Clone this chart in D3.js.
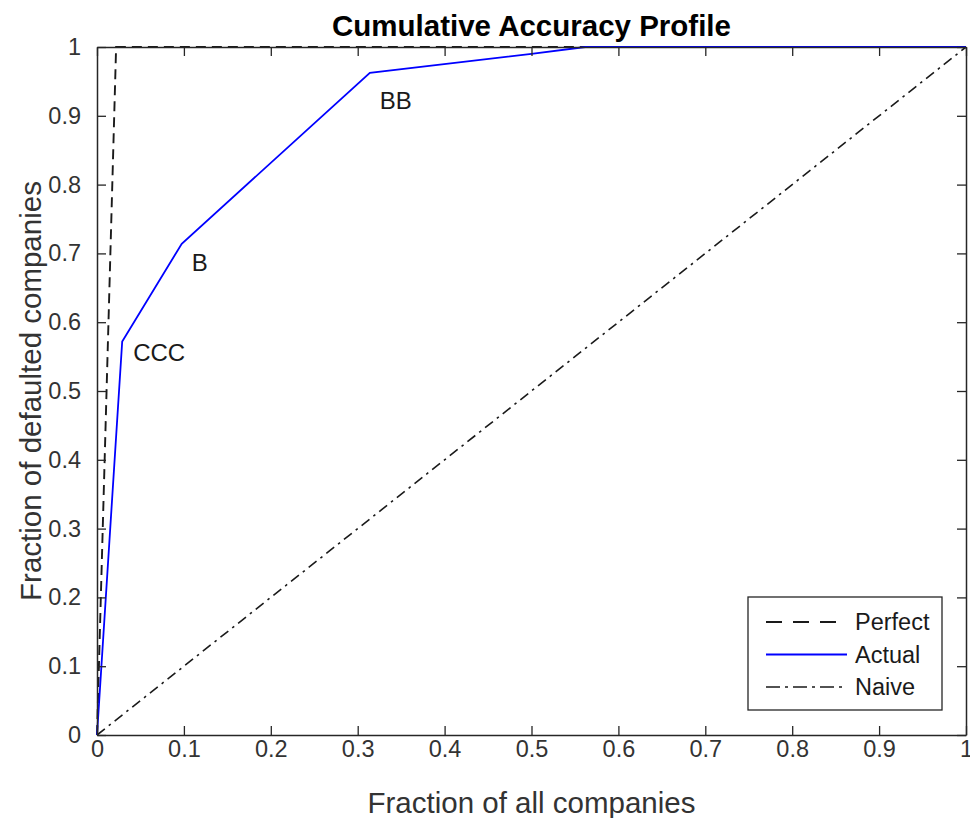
<!DOCTYPE html>
<html>
<head>
<meta charset="utf-8">
<script src="https://cdn.jsdelivr.net/npm/d3@7"></script>
<style>
  html, body { margin: 0; padding: 0; background: #fff; }
  svg { display: block; }
  text { font-family: "Liberation Sans", Arial, Helvetica, sans-serif; fill: #262626; }
</style>
</head>
<body>
<svg id="chart" width="970" height="818"></svg>
<script>
// Cumulative accuracy profile of a rating scale
const ratings      = ["CCC", "B", "BB", "BBB", "A", "AAA"];
const actualX      = [0, 0.029, 0.0975, 0.314, 0.50, 0.562, 1];
const actualY      = [0, 0.572, 0.714, 0.9625, 0.990, 1, 1];
const perfectX     = [0, 0.022, 1];
const perfectY     = [0, 1, 1];
const naiveX       = [0, 1];
const naiveY       = [0, 1];
const labelled     = ["CCC", "B", "BB"];
const tickValues   = [0, 0.1, 0.2, 0.3, 0.4, 0.5, 0.6, 0.7, 0.8, 0.9, 1];
const tickLabels   = ["0", "0.1", "0.2", "0.3", "0.4", "0.5", "0.6", "0.7", "0.8", "0.9", "1"];
const legendNames  = ["Perfect", "Actual", "Naive"];

const svg = d3.select("#chart");
const m = { left: 97, right: 4, top: 47, bottom: 83 };
const W = 970, H = 818;
const x = d3.scaleLinear().domain([0, 1]).range([m.left, W - m.right]);
const y = d3.scaleLinear().domain([0, 1]).range([H - m.bottom, m.top]);

const axisColor = "#262626";
const styles = {
  Perfect: { color: "#1a1a1a", dash: "10,6", width: 1.9 },
  Actual:  { color: "#0000ff", dash: null, width: 1.8 },
  Naive:   { color: "#1a1a1a", dash: "10,5,2.5,5", width: 1.6 }
};

const toPts = (xs, ys) => xs.map((v, i) => [v, ys[i]]);
const line = d3.line().x(d => x(d[0])).y(d => y(d[1]));

const plot = svg.append("g");
const series = [
  { name: "Perfect", pts: toPts(perfectX, perfectY) },
  { name: "Naive",   pts: toPts(naiveX, naiveY) },
  { name: "Actual",  pts: toPts(actualX, actualY) }
];
series.forEach(s => {
  const st = styles[s.name];
  plot.append("path")
    .attr("d", line(s.pts))
    .attr("fill", "none")
    .attr("stroke", st.color)
    .attr("stroke-width", st.width)
    .attr("stroke-dasharray", st.dash);
});

// rating labels beside the curve's kinks
const labelOffsets = { CCC: [11, 11], B: [10, 19], BB: [10, 28] };
labelled.forEach(r => {
  const i = ratings.indexOf(r) + 1;
  const off = labelOffsets[r];
  svg.append("text")
    .attr("x", x(actualX[i]) + off[0])
    .attr("y", y(actualY[i]) + off[1])
    .attr("dominant-baseline", "central")
    .attr("font-size", 24)
    .style("fill", "#1a1a1a")
    .text(r);
});

// axes with inward ticks on all four sides
const tickLen = 9;
const fmt = d => tickLabels[tickValues.indexOf(d)];
const axisB = d3.axisBottom(x).tickValues(tickValues).tickFormat(fmt).tickSizeInner(-tickLen).tickSizeOuter(0).tickPadding(5);
const axisT = d3.axisTop(x).tickValues(tickValues).tickFormat("").tickSizeInner(-tickLen).tickSizeOuter(0);
const axisL = d3.axisLeft(y).tickValues(tickValues).tickFormat(fmt).tickSizeInner(-tickLen).tickSizeOuter(0).tickPadding(16);
const axisR = d3.axisRight(y).tickValues(tickValues).tickFormat("").tickSizeInner(-tickLen).tickSizeOuter(0);

function styleAxis(g) {
  g.select(".domain").attr("stroke", axisColor).attr("stroke-width", 1.5);
  g.selectAll(".tick line").attr("stroke", axisColor).attr("stroke-width", 1.3);
  g.selectAll(".tick text").attr("font-size", 23.5).style("fill", "#333")
    .attr("font-family", "Liberation Sans, Arial, sans-serif");
}
svg.append("g").attr("transform", `translate(0,${H - m.bottom})`).call(axisB).call(styleAxis);
svg.append("g").attr("transform", `translate(0,${m.top})`).call(axisT).call(styleAxis);
svg.append("g").attr("transform", `translate(${m.left},0)`).call(axisL).call(styleAxis);
svg.append("g").attr("transform", `translate(${W - m.right},0)`).call(axisR).call(styleAxis);

// title and axis labels
svg.append("text")
  .attr("x", (x(0) + x(1)) / 2).attr("y", 25)
  .attr("text-anchor", "middle").attr("dominant-baseline", "central")
  .attr("font-size", 29.5).attr("font-weight", "bold").style("fill", "#000")
  .text("Cumulative Accuracy Profile");
svg.append("text")
  .attr("x", (x(0) + x(1)) / 2).attr("y", 802)
  .attr("text-anchor", "middle").attr("dominant-baseline", "central")
  .attr("font-size", 29.5).style("fill", "#333")
  .text("Fraction of all companies");
svg.append("text")
  .attr("transform", `translate(30,${(y(0) + y(1)) / 2}) rotate(-90)`)
  .attr("text-anchor", "middle").attr("dominant-baseline", "central")
  .attr("font-size", 29.5).style("fill", "#333")
  .text("Fraction of defaulted companies");

// legend
const lg = svg.append("g").attr("transform", "translate(748,597)");
lg.append("rect").attr("width", 194).attr("height", 113)
  .attr("fill", "#fff").attr("stroke", axisColor).attr("stroke-width", 1.3);
legendNames.forEach((name, i) => {
  const st = styles[name];
  const cy = 25 + i * 32.5;
  lg.append("line").attr("x1", 18).attr("x2", 99).attr("y1", cy).attr("y2", cy)
    .attr("stroke", st.color).attr("stroke-width", st.width)
    .attr("stroke-dasharray", name === "Perfect" ? "16,11" : name === "Naive" ? "14,5,3,5" : null);
  lg.append("text").attr("x", 107).attr("y", cy).attr("dominant-baseline", "central")
    .attr("font-size", 23.5).style("fill", "#1a1a1a").text(name);
});
</script>
</body>
</html>
